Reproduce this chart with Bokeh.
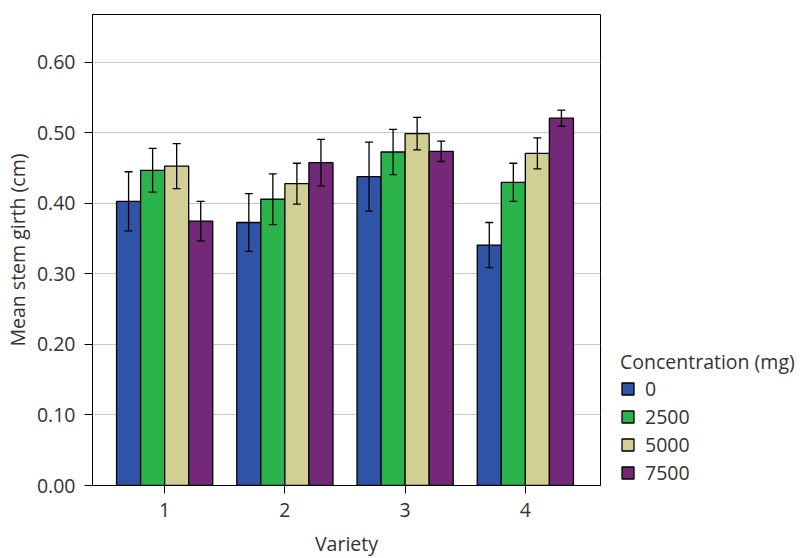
from bokeh.plotting import figure
from bokeh.models import (ColumnDataSource, FixedTicker, Range1d, Legend, LegendItem,
                          Whisker, TeeHead, NumeralTickFormatter)
from bokeh.transform import dodge
from bokeh.embed import file_html
from bokeh.resources import INLINE

# ---- data ----
varieties = [1, 2, 3, 4]
concentrations = ["0", "2500", "5000", "7500"]
mean_0    = [0.403, 0.373, 0.438, 0.341]
mean_2500 = [0.447, 0.406, 0.473, 0.430]
mean_5000 = [0.453, 0.428, 0.499, 0.471]
mean_7500 = [0.375, 0.458, 0.474, 0.521]
err_0    = [0.042, 0.041, 0.049, 0.032]
err_2500 = [0.031, 0.036, 0.032, 0.027]
err_5000 = [0.032, 0.029, 0.023, 0.022]
err_7500 = [0.028, 0.033, 0.0145, 0.0115]
y_ticks = [0.0, 0.1, 0.2, 0.3, 0.4, 0.5, 0.6]

colors = ["#2F54A5", "#2BB34B", "#D2CF95", "#732878"]
offsets = [-0.3, -0.1, 0.1, 0.3]
means = [mean_0, mean_2500, mean_5000, mean_7500]
errs = [err_0, err_2500, err_5000, err_7500]

FONT = "Open Sans"
FS = "19.5px"
TXT = "#333333"

p = figure(frame_width=508, frame_height=471, output_backend="svg", toolbar_location=None,
           x_range=Range1d(0.4, 4.625), y_range=Range1d(0, 0.668),
           min_border_left=92, min_border_right=0, min_border_top=14, min_border_bottom=70)

p.xgrid.grid_line_color = None
p.ygrid.grid_line_color = "#c8c8c8"
p.ygrid.grid_line_width = 1
p.ygrid.ticker = FixedTicker(ticks=y_ticks)
p.outline_line_color = "black"
p.outline_line_width = 1
p.outline_line_alpha = 1

items = []
for c, off, col, m, e in zip(concentrations, offsets, colors, means, errs):
    src = ColumnDataSource(dict(variety=varieties, mean=m,
                                upper=[a + b for a, b in zip(m, e)],
                                lower=[a - b for a, b in zip(m, e)]))
    r = p.vbar(x=dodge("variety", off), top="mean", bottom=0, width=0.2, source=src,
               fill_color=col, line_color="black", line_width=1.3)
    w = Whisker(source=src, base=dodge("variety", off), upper="upper", lower="lower",
                line_color="black", line_width=1.3, level="overlay",
                upper_head=TeeHead(size=8, line_color="black", line_width=1.3),
                lower_head=TeeHead(size=8, line_color="black", line_width=1.3))
    p.add_layout(w)
    items.append(LegendItem(label=c, renderers=[r]))

# axes
for ax in (p.xaxis[0], p.yaxis[0]):
    ax.axis_line_color = "black"
    ax.major_tick_line_color = "black"
    ax.minor_tick_line_color = None
    ax.major_tick_in = 0
    ax.major_tick_out = 8
    ax.major_label_text_font = FONT
    ax.major_label_text_font_size = FS
    ax.major_label_text_color = TXT
    ax.axis_label_text_font = FONT
    ax.axis_label_text_font_size = FS
    ax.axis_label_text_font_style = "normal"
    ax.axis_label_text_color = TXT

p.xaxis.ticker = FixedTicker(ticks=varieties)
p.xaxis.axis_label = "Variety"
p.xaxis.major_label_standoff = 9
p.xaxis.axis_label_standoff = 10
p.yaxis.ticker = FixedTicker(ticks=y_ticks)
p.yaxis.formatter = NumeralTickFormatter(format="0.00")
p.yaxis.axis_label = "Mean stem girth (cm)"
p.yaxis.major_label_standoff = 9
p.yaxis.axis_label_standoff = 3

legend = Legend(items=items, location=(20, -1), title="Concentration (mg)",
                title_text_font=FONT, title_text_font_size=FS, title_text_color=TXT,
                title_text_font_style="normal", title_standoff=0,
                label_text_font=FONT, label_text_font_size=FS, label_text_color=TXT,
                glyph_width=15, glyph_height=15, label_height=22, spacing=1,
                padding=0, margin=0, border_line_color=None, background_fill_alpha=0,
                label_standoff=10)
p.add_layout(legend, "right")

open("out.html", "w").write(file_html(p, INLINE))
